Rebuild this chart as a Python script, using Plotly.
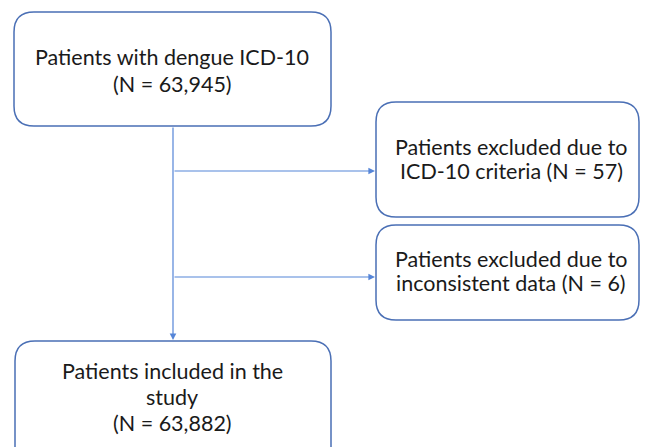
import plotly.graph_objects as go

W, H = 649, 447
PAGE_OFFSET = 8  # default body margin of the html page

# Boxes: (x0, y0, x1, y1) in pixel-like axis units (y downward)
box_names = ["start", "excl1", "excl2", "final"]
box_x0 = [14, 376, 376, 15]
box_y0 = [12, 102, 225, 341]
box_x1 = [331, 639, 639, 331]
box_y1 = [126, 217, 320, 470]
box_radius = 20

# Text lines of each box with their vertical centres
text_lines = [
    ["Patients with dengue ICD-10", "(N = 63,945)"],
    ["Patients excluded due to", "ICD-10 criteria (N = 57)"],
    ["Patients excluded due to", "inconsistent data (N = 6)"],
    ["Patients included in the", "study", "(N = 63,882)"],
]
text_y = [
    [57, 84],
    [147, 171],
    [259, 283],
    [371, 397, 423],
]

# Connector geometry
stem_x = 173
stem_top = 126
stem_bottom = 340
branch_y = [171, 277]
branch_end = 375

BORDER = "#4A6FB5"
LINE = "#5585D8"

fig = go.Figure()

def rounded_path(x0, y0, x1, y1, r):
    return (f"M {x0+r},{y0} L {x1-r},{y0} Q {x1},{y0} {x1},{y0+r} "
            f"L {x1},{y1-r} Q {x1},{y1} {x1-r},{y1} L {x0+r},{y1} "
            f"Q {x0},{y1} {x0},{y1-r} L {x0},{y0+r} Q {x0},{y0} {x0+r},{y0} Z")

shapes = []
for i in range(len(box_names)):
    shapes.append(dict(type="path", xref="x", yref="y",
                       path=rounded_path(box_x0[i], box_y0[i], box_x1[i], box_y1[i], box_radius),
                       line=dict(color=BORDER, width=1.5), fillcolor="white", layer="below"))

annotations = []
annotations.append(dict(x=stem_x, y=stem_bottom, ax=stem_x, ay=stem_top, xref="x", yref="y",
                        axref="x", ayref="y", showarrow=True, arrowhead=2, arrowsize=1.1,
                        arrowwidth=1.2, arrowcolor=LINE, text=""))
for by in branch_y:
    annotations.append(dict(x=branch_end, y=by, ax=stem_x, ay=by, xref="x", yref="y",
                            axref="x", ayref="y", showarrow=True, arrowhead=2, arrowsize=1.1,
                            arrowwidth=1.2, arrowcolor=LINE, text=""))

text_cx = [172, 511, 511, 172]
for i in range(len(box_names)):
    for line, ty in zip(text_lines[i], text_y[i]):
        annotations.append(dict(x=text_cx[i], y=ty, xref="x", yref="y", text=line, showarrow=False,
                                xanchor="center", yanchor="middle",
                                font=dict(family="Lato, Carlito, sans-serif", size=21.5, color="#1a1a1a")))

fig.update_layout(
    width=W - PAGE_OFFSET, height=H - PAGE_OFFSET,
    margin=dict(l=0, r=0, t=0, b=0),
    paper_bgcolor="white", plot_bgcolor="white",
    xaxis=dict(range=[PAGE_OFFSET, W], visible=False, fixedrange=True),
    yaxis=dict(range=[H, PAGE_OFFSET], visible=False, fixedrange=True),
    shapes=shapes, annotations=annotations, showlegend=False,
)

fig.write_html("out.html")
